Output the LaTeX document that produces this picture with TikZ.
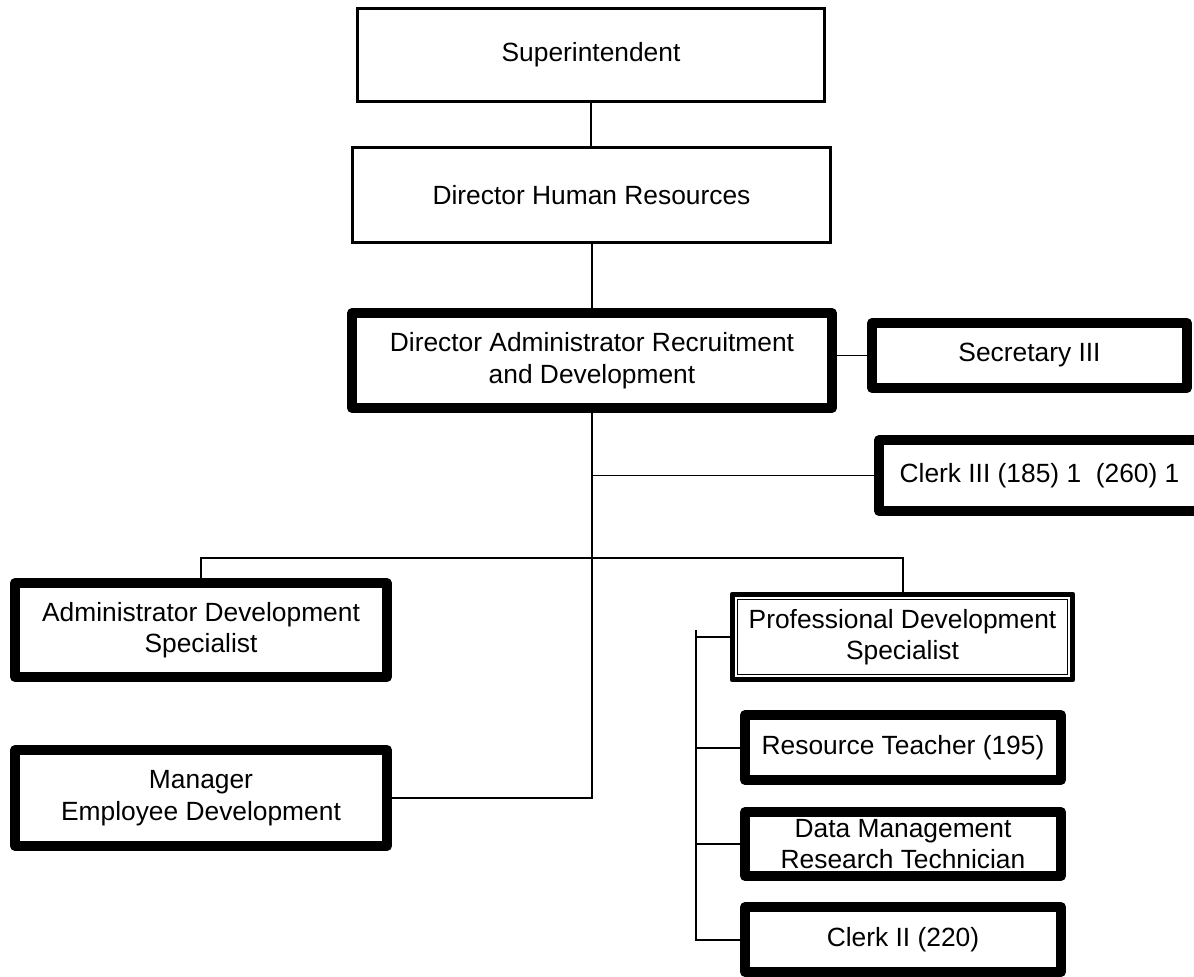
\documentclass[tikz,border=0pt]{standalone}
\usepackage{fontspec}
\setmainfont{Liberation Sans}
\begin{document}
\begin{tikzpicture}[x=0.02cm,y=-0.02cm,font=\fontsize{15}{18}\selectfont]
    \tikzset{
        plainbox/.style={draw, line width=0.06cm, align=center, inner sep=0pt},
        heavybox/.style={draw, line width=0.2cm, line join=round, align=center, inner sep=0pt},
        framedbox/.style={draw, line width=0.1cm, line join=round, align=center, inner sep=0pt},
        link/.style={line width=0.04cm},
        thinlink/.style={line width=0.025cm}
    }
    \useasboundingbox (0,0) rectangle (1194,977);

    \node[plainbox, minimum width=9.36cm, minimum height=1.88cm] (sup) at (591,55) {Superintendent};
    \node[plainbox, minimum width=9.58cm, minimum height=1.92cm] (dhr) at (591.5,195) {Director Human Resources};
    \node[heavybox, minimum width=9.6cm, minimum height=1.9cm] (dard) at (592,360.5) {Director Administrator Recruitment\\and Development};
    \node[heavybox, minimum width=6.3cm, minimum height=1.3cm] (sec) at (1029.5,355.5) {Secretary III};
    \node[heavybox, minimum width=6.42cm, minimum height=1.42cm] (clerk3) at (1039.5,475.5) {Clerk III (185) 1~~(260) 1};
    \node[heavybox, minimum width=7.44cm, minimum height=1.88cm] (ads) at (201,630) {Administrator Development\\Specialist};
    \node[heavybox, minimum width=7.44cm, minimum height=1.92cm] (mgr) at (201,798) {Manager\\Employee Development};
    \node[framedbox, minimum width=6.82cm, minimum height=1.72cm] (pds) at (902.5,637) {Professional Development\\Specialist};
    \node[heavybox, minimum width=6.32cm, minimum height=1.3cm] (rt) at (903,747.5) {Resource Teacher (195)};
    \node[heavybox, minimum width=6.32cm, minimum height=1.28cm] (dm) at (903,844) {Data Management\\Research Technician};
    \node[heavybox, minimum width=6.32cm, minimum height=1.3cm] (clerk2) at (903,939.5) {Clerk II (220)};

    % inner frame of the professional development box
    \draw[thinlink] ([shift={(8,8)}]pds.north west) rectangle ([shift={(-8,-8)}]pds.south east);

    \coordinate (hub) at (592,558);
    \coordinate (rail) at (696,630);

    \draw[link] (sup.south) -- (sup.south |- dhr.north);
    \draw[link] (dhr.south -| dard.north) -- (dard.north);
    \draw[link] (dard.south) -- (hub);
    \draw[link] (ads.north) |- (hub) -| (pds.north);
    \draw[thinlink] (hub) |- (mgr.east);
    \draw[thinlink] (dard.south |- clerk3.west) -- (clerk3.west);
    \draw[thinlink] (dard.east |- sec.west) -- (sec.west);

    \draw[link] (rail) |- (clerk2.west);
    \foreach \n in {pds, rt, dm}{
        \draw[link] (rail |- \n.west) -- (\n.west);
    }
\end{tikzpicture}
\end{document}
